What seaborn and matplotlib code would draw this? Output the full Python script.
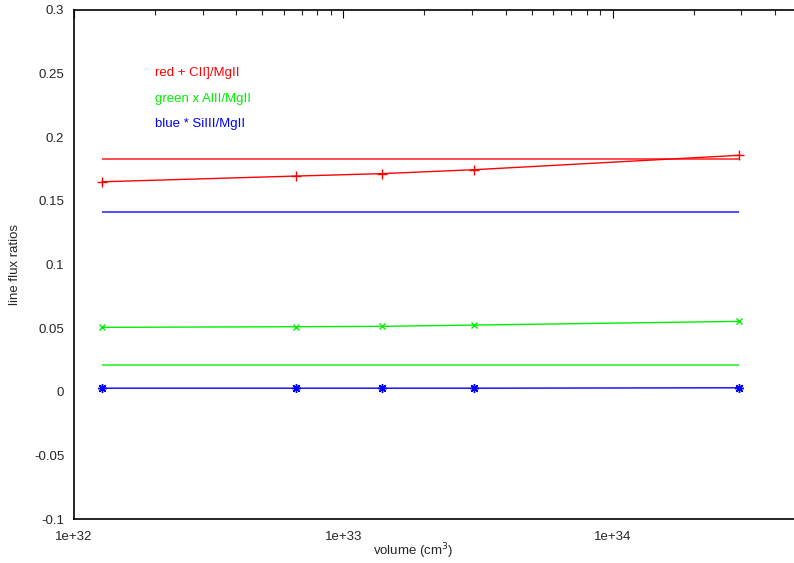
import numpy as np
import matplotlib
matplotlib.use('Agg')
import matplotlib.pyplot as plt
from matplotlib.ticker import LogLocator, FixedLocator, FixedFormatter, NullFormatter
import seaborn as sns

# values
volume = [1.27e32, 6.66e32, 1.39e33, 3.06e33, 2.94e34]
cii_mgii = [0.165, 0.1695, 0.1714, 0.1745, 0.1858]
alii_mgii = [0.0506, 0.0511, 0.0514, 0.0524, 0.0553]
siiii_mgii = [0.0028, 0.0028, 0.0028, 0.0028, 0.0031]
# flat reference levels
cii_ref = 0.1832
siiii_ref = 0.141
alii_ref = 0.0213

yticks = [-0.1, -0.05, 0, 0.05, 0.1, 0.15, 0.2, 0.25, 0.3]
ytick_labels = ['-0.1', '-0.05', '0', '0.05', '0.1', '0.15', '0.2', '0.25', '0.3']
xticks = [1e32, 1e33, 1e34]
xtick_labels = ['1e+32', '1e+33', '1e+34']

sns.set_style('white')
plt.rcParams['font.family'] = ['Liberation Sans', 'DejaVu Sans']

fig = plt.figure(figsize=(7.94, 5.63), dpi=100)
W, H = 794, 563
ax = fig.add_axes([74 / W, 1 - 519 / H, (801 - 74) / W, (519 - 10) / H])

RED, GREEN, BLUE = '#ff0000', '#00ee00', '#0000ff'

ax.hlines(cii_ref, volume[0], volume[-1], color=RED, lw=1.3, alpha=0.75)
ax.hlines(siiii_ref, volume[0], volume[-1], color=BLUE, lw=1.3, alpha=0.75)
ax.hlines(alii_ref, volume[0], volume[-1], color=GREEN, lw=1.3, alpha=0.75)

sns.lineplot(x=volume, y=cii_mgii, color=RED, marker='+', markersize=6.5,
	markeredgewidth=1, markeredgecolor=RED, lw=1, ax=ax)
sns.lineplot(x=volume, y=alii_mgii, color=GREEN, marker='x', markersize=5,
	markeredgewidth=1, markeredgecolor=GREEN, lw=1, ax=ax)
sns.lineplot(x=volume, y=siiii_mgii, color=BLUE, marker=(8, 2, 0), markersize=6.5,
	markeredgewidth=1, markeredgecolor=BLUE, lw=1, ax=ax)

ax.set_xscale('log')
ax.set_xlim(1e32, 5e34)
ax.set_ylim(-0.1, 0.3)
ax.xaxis.set_major_locator(FixedLocator(xticks))
ax.xaxis.set_major_formatter(FixedFormatter(xtick_labels))
ax.xaxis.set_minor_locator(LogLocator(base=10, subs=np.arange(2, 10)))
ax.xaxis.set_minor_formatter(NullFormatter())
ax.yaxis.set_major_locator(FixedLocator(yticks))
ax.yaxis.set_major_formatter(FixedFormatter(ytick_labels))

ax.tick_params(which='major', direction='in', length=6, width=0.8, top=True,
	right=False, labelsize=9.5, color='black')
ax.tick_params(which='minor', direction='in', length=3.5, width=0.8, top=True,
	right=False)
ax.tick_params(axis='x', which='major', pad=9)
ax.tick_params(axis='y', which='major', length=4, pad=7)
for side in ['left', 'bottom', 'top']:
	ax.spines[side].set_linewidth(1.2)
	ax.spines[side].set_color('black')
ax.spines['right'].set_visible(False)

ax.set_xlabel('')
ax.set_ylabel('')
fig.text(413 / W, 1 - 551 / H, 'volume (cm$^3$)', ha='center', va='center', fontsize=9.5)
fig.text(15 / W, 1 - 265 / H, 'line flux ratios', ha='center', va='center',
	rotation=90, fontsize=9.5)

fig.text(155 / W, 1 - 73 / H, 'red + CII]/MgII', color=RED, fontsize=9.5, va='center')
fig.text(155 / W, 1 - 99 / H, 'green x AlII/MgII', color=GREEN, fontsize=9.5, va='center')
fig.text(155 / W, 1 - 124 / H, 'blue * SiIII/MgII', color=BLUE, fontsize=9.5, va='center')

fig.savefig('out.png', dpi=100)
